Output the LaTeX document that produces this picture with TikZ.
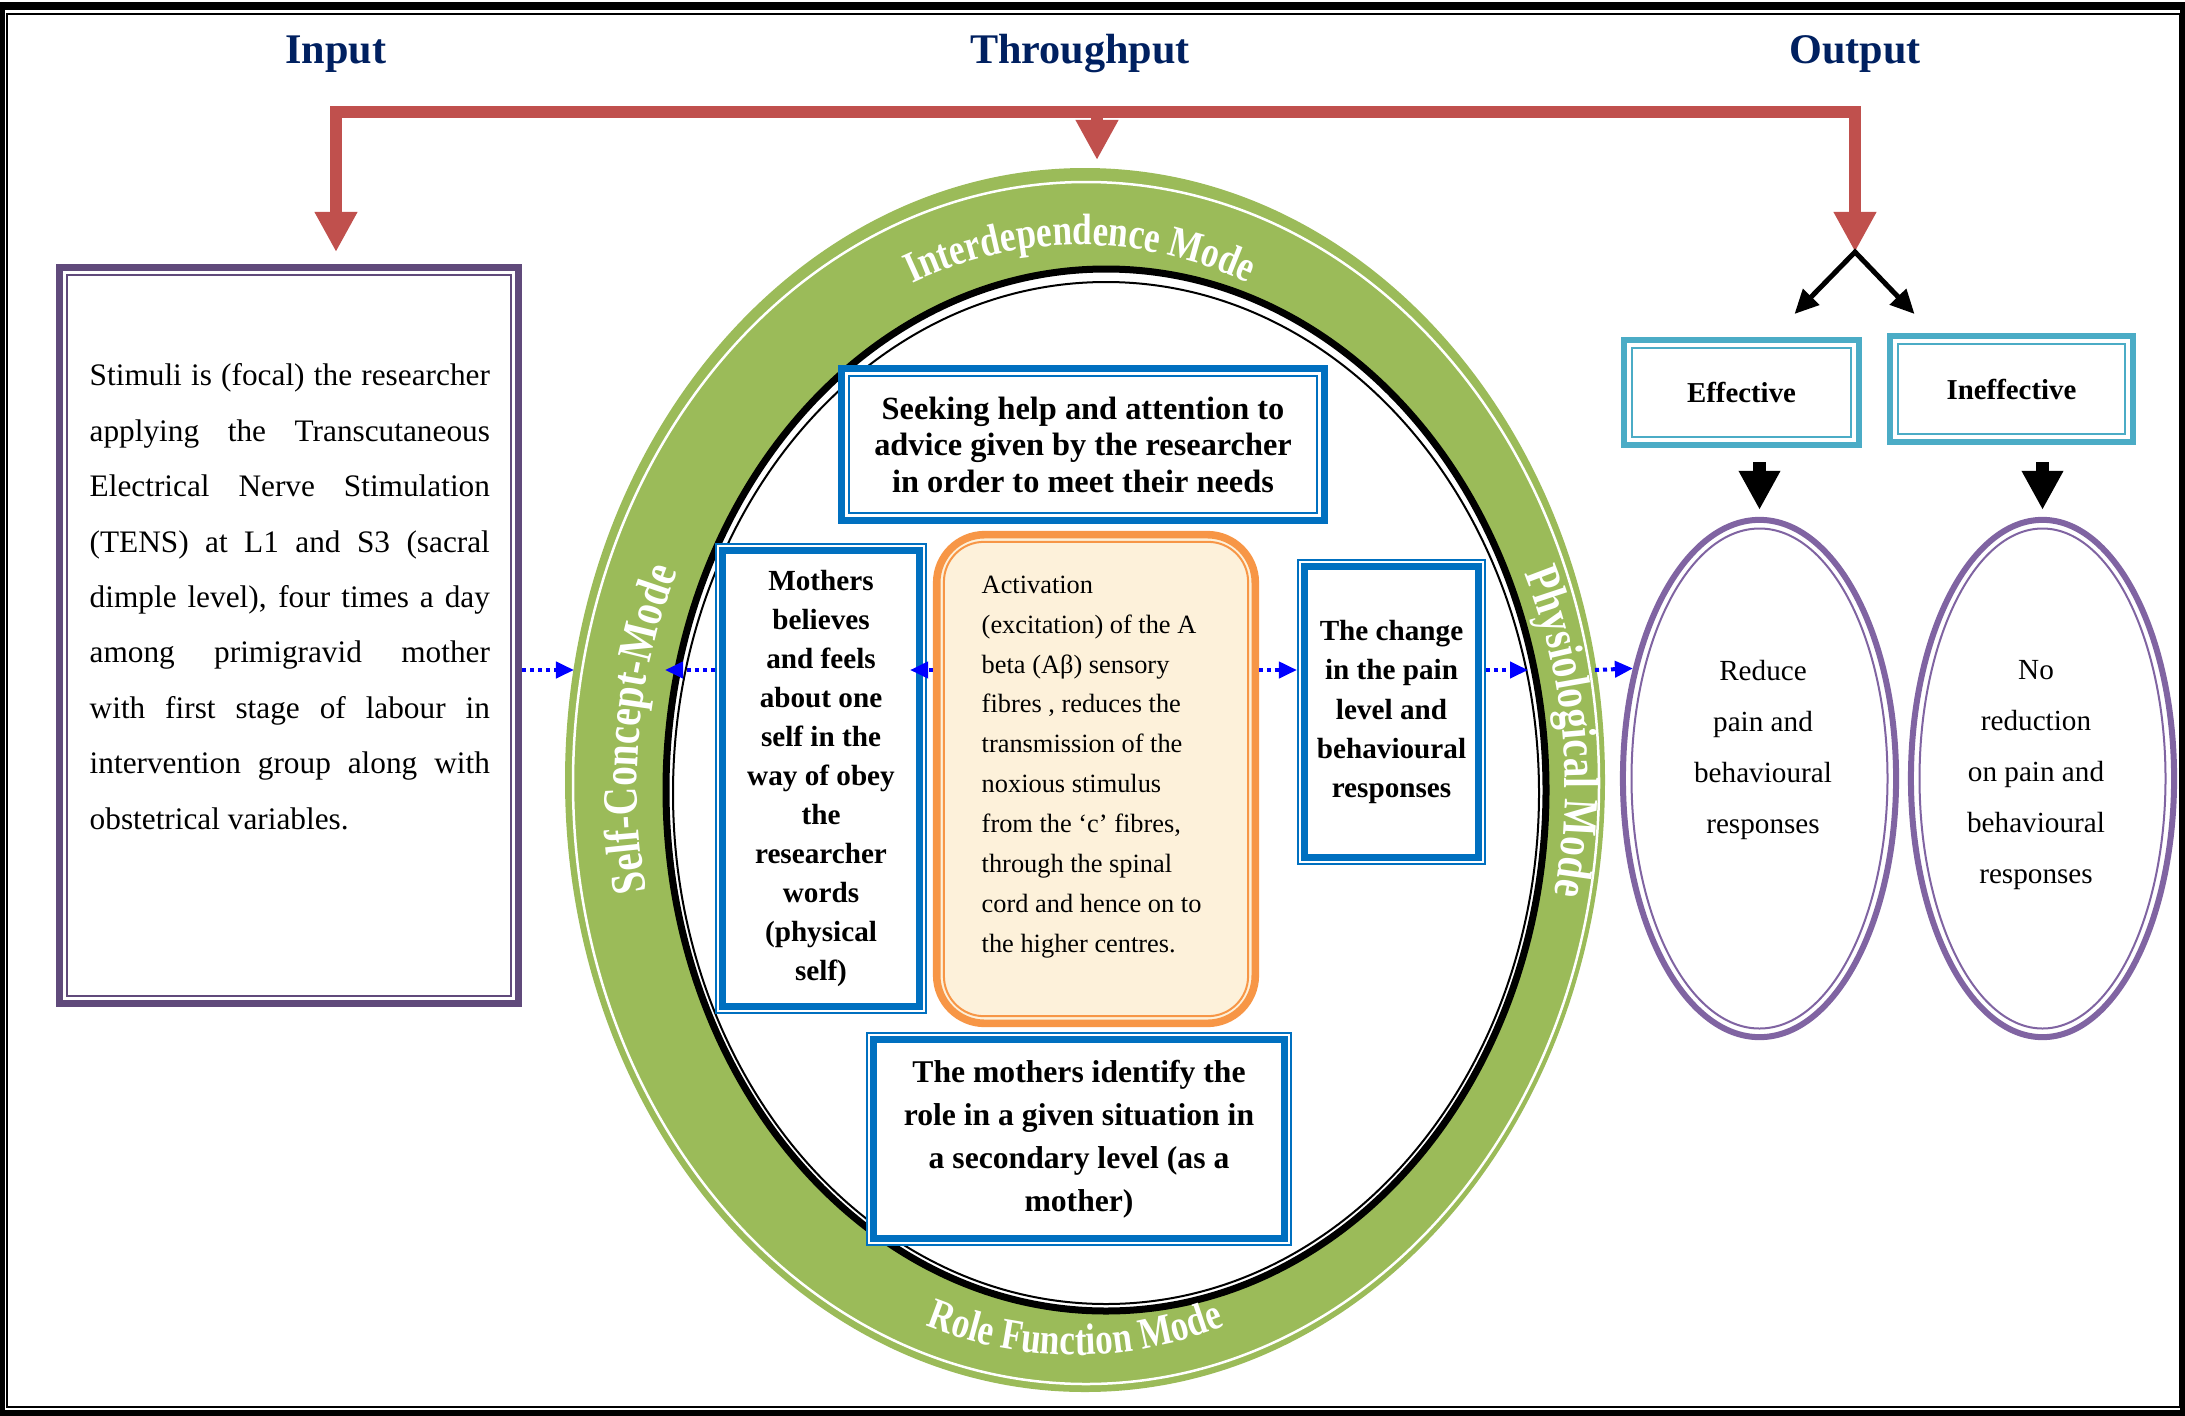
\documentclass[tikz,border=0pt]{standalone}
\usepackage{fontspec}
\setmainfont{Liberation Serif}
\newfontfamily\ringfont[FakeStretch=0.8]{Liberation Serif}
\usetikzlibrary{arrows.meta,shapes.geometric,decorations.text}

\definecolor{titleblue}{RGB}{0,32,96}
\definecolor{redc}{RGB}{192,80,77}
\definecolor{inpurple}{RGB}{96,74,123}
\definecolor{ringgreen}{RGB}{155,187,89}
\definecolor{boxblue}{RGB}{0,112,192}
\definecolor{orangebox}{RGB}{247,150,70}
\definecolor{cream}{RGB}{253,241,218}
\definecolor{cyanbox}{RGB}{75,172,198}
\definecolor{elpurple}{RGB}{128,100,162}
\definecolor{dotblue}{RGB}{0,0,255}

\newcommand{\jline}[1]{\hbox to 4cm{#1}}
\newcommand{\ringtop}{\ringfont\bfseries\fontsize{12.5}{13}\selectfont}
\newcommand{\ringside}{\ringfont\bfseries\fontsize{14}{15}\selectfont}

\begin{document}
\begin{tikzpicture}[x=0.01cm, y=-0.01cm,
    title/.style={text=titleblue, font=\bfseries\fontsize{12}{14}\selectfont, anchor=base},
    thickbox/.style={draw=#1, line width=0.07cm, fill=white, inner sep=0pt},
    thinbox/.style={draw=boxblue, line width=0.02cm, fill=white, inner sep=0pt, align=center, font=\bfseries\fontsize{8.3}{11.1}\selectfont},
    outbox/.style={ellipse, draw=elpurple, line width=0.06cm, fill=white, inner sep=0pt, minimum height=5.17cm},
    eltext/.style={align=center, inner sep=0pt, font=\fontsize{8.3}{14.5}\selectfont},
    redline/.style={draw=redc, line width=0.12cm},
    redtip/.tip={Triangle[length=0.4cm,width=0.4cm]},
    blockarrow/.style={line width=0.13cm, -{Triangle[length=0.39cm,width=0.39cm]}},
    dotarrow/.style={draw=dotblue, line width=0.04cm, dash pattern=on 0.04cm off 0.04cm, -{Triangle[length=0.18cm,width=0.16cm]}},
    ringtext/.style={decorate, decoration={text along path, text align=center, text color=white, text={#1}}}]
\useasboundingbox (0,0) rectangle (2185,1415);

% frame
\draw[line width=0.08cm] (1,6) rectangle (2184,1414);
\draw[line width=0.025cm] (7,14) rectangle (2180,1407);

% headings
\node[title] (tin) at (336,63) {Input};
\node[title] (tthrough) at (1080,63) {Throughput};
\node[title] (tout) at (1855,63) {Output};

% red feedback line
\coordinate (bar) at (0,112);
\coordinate (inTip) at (336,252);
\coordinate (fork) at (1855,252);
\coordinate (midTip) at (1097,160);
\draw[redline, redtip-redtip] (inTip) -- (inTip |- bar) -- (fork |- bar) -- (fork);
\draw[redline, -redtip] (midTip |- bar) -- (midTip);

% ring of the four modes
\fill[ringgreen] (1085,780) ellipse [x radius=520, y radius=612];
\draw[white, line width=0.025cm] (1086,783) ellipse [x radius=513, y radius=601];
\draw[line width=0.07cm, fill=white] (1106,790) ellipse [x radius=440, y radius=521];
\draw[line width=0.02cm] (1106,793) ellipse [x radius=433, y radius=511];

\path[ringtext={|\ringtop|Interdependence Mode}] (819.6,342.6) arc[start angle=-125, end angle=-55, x radius=454, y radius=540];
\path[ringtext={|\ringtop|Role Function Mode}] (805.4,1251.9) arc[start angle=125, end angle=55, x radius=470, y radius=570];
\path[ringtext={|\ringside|Self-Concept-Mode}] (664.6,962.8) arc[start angle=160, end angle=212.6, x radius=458, y radius=520];
\path[ringtext={|\ringside|Physiological Mode}] (1502,525) arc[start angle=-30, end angle=18, x radius=470, y radius=520];

% input
\node[thickbox=inpurple, minimum width=4.59cm, minimum height=7.35cm] (input) at (289,635.5) {};
\node[anchor=north west, inner sep=0pt, align=left, font=\fontsize{8.9}{15.76}\selectfont] (stimtxt) at (89,363)
  {\jline{Stimuli is (focal) the researcher}\\
   \jline{applying the Transcutaneous}\\
   \jline{Electrical Nerve Stimulation}\\
   \jline{(TENS) at L1 and S3 (sacral}\\
   \jline{dimple level), four times a day}\\
   \jline{among primigravid mother}\\
   \jline{with first stage of labour in}\\
   \jline{intervention group along with}\\
   obstetrical variables.};

% throughput
\node[thickbox=boxblue, minimum width=4.83cm, minimum height=1.515cm, align=center, font=\bfseries\fontsize{9.2}{10.3}\selectfont] (seek) at (1083,444.75)
  {Seeking help and attention to\\advice given by the researcher\\in order to meet their needs};
\node[thinbox, minimum width=2.1cm, minimum height=4.69cm] (mothers) at (821,778.5)
  {Mothers\\believes\\and feels\\about one\\self in the\\way of obey\\the\\researcher\\words\\(physical\\self)};
\node[thickbox=orangebox, fill=cream, line width=0.076cm, rounded corners=0.48cm, minimum width=3.184cm, minimum height=4.884cm] (orange) at (1096,779) {};
\node[anchor=north west, inner sep=0pt, align=left, font=\fontsize{7.5}{11.35}\selectfont] (abtxt) at (981,575)
  {Activation\\(excitation) of the A\\beta (Aβ) sensory\\fibres , reduces the\\transmission of the\\noxious stimulus\\from the ‘c’ fibres,\\through the spinal\\cord and hence on to\\the higher centres.};
\node[thinbox, minimum width=1.87cm, minimum height=3.04cm] (change) at (1391.5,712)
  {The change\\in the pain\\level and\\behavioural\\responses};
\node[thinbox, minimum width=4.24cm, minimum height=2.12cm, font=\bfseries\fontsize{9}{12.2}\selectfont] (roleid) at (1079,1139)
  {The mothers identify the\\role in a given situation in\\a secondary level (as a\\mother)};

% output
\node[thickbox=cyanbox, line width=0.06cm, minimum width=2.35cm, minimum height=1.05cm, font=\bfseries\fontsize{8.2}{10}\selectfont] (eff) at (1741.5,392.5) {Effective};
\node[thickbox=cyanbox, line width=0.06cm, minimum width=2.43cm, minimum height=1.06cm, font=\bfseries\fontsize{8.2}{10}\selectfont] (ineff) at (2011.5,389) {Ineffective};
\node[outbox, minimum width=2.73cm] (reduce) at (1759.5,778.5) {};
\node[outbox, minimum width=2.63cm] (noreduce) at (2042.5,778.5) {};
\node[eltext, anchor=north] (redtxt) at (1763,660) {Reduce\\pain and\\behavioural\\responses};
\node[eltext, anchor=north] (notxt) at (2036,660) {No\\reduction\\on pain and\\behavioural\\responses};

% second lines of the frames
\foreach \n/\c in {input/inpurple, seek/boxblue, eff/cyanbox, ineff/cyanbox}
  \draw[\c, line width=0.02cm] ([shift={(11,11)}]\n.north west) rectangle ([shift={(-11,-11)}]\n.south east);
\foreach \n in {mothers, change, roleid}
  \draw[boxblue, line width=0.07cm] ([shift={(8,8)}]\n.north west) rectangle ([shift={(-8,-8)}]\n.south east);
\draw[orangebox, line width=0.02cm, rounded corners=0.4cm] ([shift={(11,11)}]orange.north west) rectangle ([shift={(-11,-11)}]orange.south east);
\foreach \n/\r in {reduce/128, noreduce/123}
  \draw[elpurple, line width=0.02cm] (\n.center) ellipse [x radius=\r, y radius=250];

% fork and block arrows
\draw[line width=0.05cm, {Triangle[length=0.24cm,width=0.22cm]}-{Triangle[length=0.24cm,width=0.22cm]}]
  ([shift={(53,-23)}]eff.north) -- (fork) -- ([shift={(-97,-19)}]ineff.north);
\coordinate (effB) at ([shift={(0,14)}]eff.south);
\coordinate (ineffB) at ([shift={(0,17)}]ineff.south);
\draw[blockarrow] (reduce.north |- effB) -- ([shift={(0,-7)}]reduce.north);
\draw[blockarrow] (noreduce.north |- ineffB) -- ([shift={(0,-7)}]noreduce.north);

% dotted links
\coordinate (row) at (0,670);
\coordinate (ringL) at (574,670);
\coordinate (blackL) at (665,670);
\coordinate (blackR) at (1528,670);
\coordinate (ringR) at (1595,670);
\draw[dotarrow] (input.east |- row) -- (ringL);
\draw[dotarrow] (mothers.west |- row) -- (blackL);
\draw[dotarrow, shorten >=-0.17cm] (orange.west |- row) -- (mothers.east |- row);
\draw[dotarrow] (orange.east |- row) -- (change.west |- row);
\draw[dotarrow] (change.east |- row) -- (blackR);
\draw[dotarrow] (ringR) -- (reduce.139);
\end{tikzpicture}
\end{document}
